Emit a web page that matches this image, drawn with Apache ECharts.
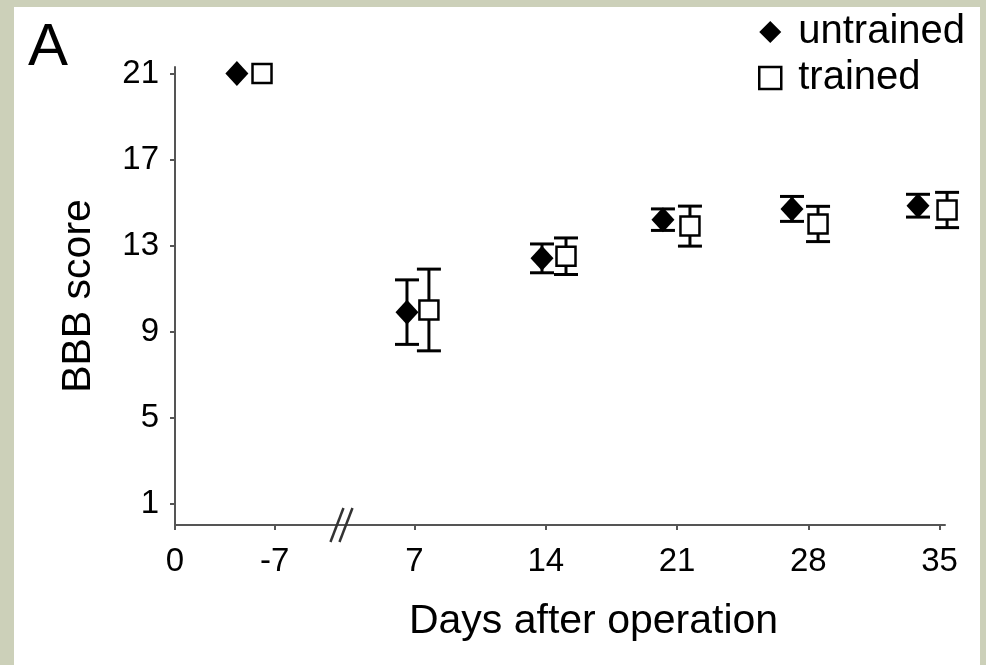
<!DOCTYPE html>
<html>
<head>
<meta charset="utf-8">
<title>BBB score</title>
<script src="https://cdn.jsdelivr.net/npm/echarts@6/dist/echarts.min.js"></script>
<style>
body{margin:0;background:#ccd0b9;}
#frame{position:relative;width:986px;height:665px;background:#ccd0b9;overflow:hidden;}
#chart{position:absolute;left:14px;top:7px;width:966px;height:658px;background:#fff;}
</style>
</head>
<body>
<div id="frame"><div id="chart"></div></div>
<script>
// axis positions of the tick labels (the pre-operative part is squeezed before the break)
var xTickPos = [-5.77, -0.45, 7, 14, 21, 28, 35];
var xTickLabels = ['0', '-7', '7', '14', '21', '28', '35'];
var yTicks = [1, 5, 9, 13, 17, 21];
var breakAt = 3.16;

// values
var untrainedX = [-2.47, 6.6, 13.8, 20.25, 27.13, 33.85];
var untrainedMean = [21.0, 9.9, 12.4, 14.2, 14.7, 14.85];
var untrainedErr = [0, 1.5, 0.67, 0.5, 0.58, 0.53];

var trainedX = [-1.13, 7.77, 15.08, 21.69, 28.52, 35.4];
var trainedMean = [21.0, 10.0, 12.5, 13.9, 14.0, 14.65];
var trainedErr = [0, 1.9, 0.85, 0.93, 0.82, 0.82];

var FONT = '"Liberation Sans", Arial, sans-serif';

function zip3(a, b, c){
	var out = [];
	for(var i=0;i<a.length;i++){
		out.push([a[i], b[i], c[i]]);
	}
	return out;
}

function errorBars(params, api){
	var err = api.value(2);
	if(!err) return null;
	var x = api.value(0), y = api.value(1);
	var top = api.coord([x, y + err]);
	var bot = api.coord([x, y - err]);
	var half = 12;
	var style = {stroke: '#000', lineWidth: 3};
	return {
		type: 'group',
		children: [
			{type: 'line', shape: {x1: top[0], y1: top[1], x2: bot[0], y2: bot[1]}, style: style},
			{type: 'line', shape: {x1: top[0]-half, y1: top[1], x2: top[0]+half, y2: top[1]}, style: style},
			{type: 'line', shape: {x1: bot[0]-half, y1: bot[1], x2: bot[0]+half, y2: bot[1]}, style: style}
		]
	};
}

var myChart = echarts.init(document.getElementById('chart'));

var option = {
	animation: false,
	textStyle: {fontFamily: FONT},
	title: {
		text: 'A',
		left: 9,
		top: 6,
		textStyle: {fontFamily: FONT, fontSize: 60, fontWeight: 'normal', color: '#000'}
	},
	legend: {
		orient: 'vertical',
		left: 739,
		top: 0,
		itemWidth: 22,
		itemHeight: 22,
		itemGap: 6,
		textStyle: {fontFamily: FONT, fontSize: 40, color: '#000', lineHeight: 40, padding: [0, 0, 0, 12]},
		data: [
			{name: 'untrained', icon: 'diamond', itemStyle: {color: '#000'}},
			{name: 'trained', icon: 'rect', itemStyle: {color: '#fff', borderColor: '#000', borderWidth: 2.5}}
		]
	},
	grid: {
		left: 161,
		top: 60,
		right: 35,
		bottom: 140
	},
	xAxis: {
		type: 'value',
		min: xTickPos[0],
		max: 35.29,
		splitLine: {show: false},
		axisLine: {lineStyle: {color: '#555', width: 2}},
		axisTick: {show: true, length: 5, lineStyle: {color: '#555', width: 2}, customValues: xTickPos},
		axisLabel: {
			customValues: xTickPos,
			margin: 20,
			fontSize: 33,
			color: '#000',
			fontFamily: FONT,
			formatter: function(v){
				var best = 0;
				for(var i=1;i<xTickPos.length;i++){
					if(Math.abs(xTickPos[i]-v) < Math.abs(xTickPos[best]-v)) best = i;
				}
				return xTickLabels[best];
			}
		},
		name: 'Days after operation',
		nameLocation: 'middle',
		nameGap: 76,
		nameTextStyle: {fontFamily: FONT, fontSize: 41, color: '#000', padding: [0, 0, 0, 67]}
	},
	yAxis: {
		type: 'value',
		min: 0,
		max: 21.3,
		splitLine: {show: false},
		axisLine: {show: true, onZero: false, lineStyle: {color: '#555', width: 2}},
		axisTick: {show: true, length: 5, lineStyle: {color: '#555', width: 2}, customValues: yTicks},
		axisLabel: {customValues: yTicks, margin: 16, fontSize: 33, color: '#000', fontFamily: FONT},
		name: 'BBB score',
		nameLocation: 'middle',
		nameGap: 76,
		nameRotate: 90,
		nameTextStyle: {fontFamily: FONT, fontSize: 41, color: '#000'}
	},
	series: [
		{
			name: 'untrained err',
			type: 'custom',
			renderItem: errorBars,
			clip: false,
			z: 1,
			data: zip3(untrainedX, untrainedMean, untrainedErr)
		},
		{
			name: 'trained err',
			type: 'custom',
			renderItem: errorBars,
			clip: false,
			z: 1,
			data: zip3(trainedX, trainedMean, trainedErr)
		},
		{
			name: 'untrained',
			type: 'scatter',
			symbol: 'diamond',
			symbolSize: [23, 25],
			clip: false,
			z: 3,
			itemStyle: {color: '#000', opacity: 1},
			data: untrainedX.map(function(x, i){ return [x, untrainedMean[i]]; })
		},
		{
			name: 'trained',
			type: 'scatter',
			symbol: 'rect',
			symbolSize: 19,
			clip: false,
			z: 3,
			itemStyle: {color: '#fff', borderColor: '#000', borderWidth: 2.5, opacity: 1},
			data: trainedX.map(function(x, i){ return [x, trainedMean[i]]; })
		}
	]
};
myChart.setOption(option);

// axis break mark "//" on the x axis
var bp = myChart.convertToPixel({gridIndex: 0}, [breakAt, 0]);
var slash = {stroke: '#333', lineWidth: 2.5};
myChart.setOption({
	graphic: [
		{type: 'line', shape: {x1: bp[0]-12, y1: bp[1]+17, x2: bp[0]+1, y2: bp[1]-17}, style: slash, z: 10},
		{type: 'line', shape: {x1: bp[0]-3, y1: bp[1]+17, x2: bp[0]+10, y2: bp[1]-17}, style: slash, z: 10}
	]
});
</script>
</body>
</html>
